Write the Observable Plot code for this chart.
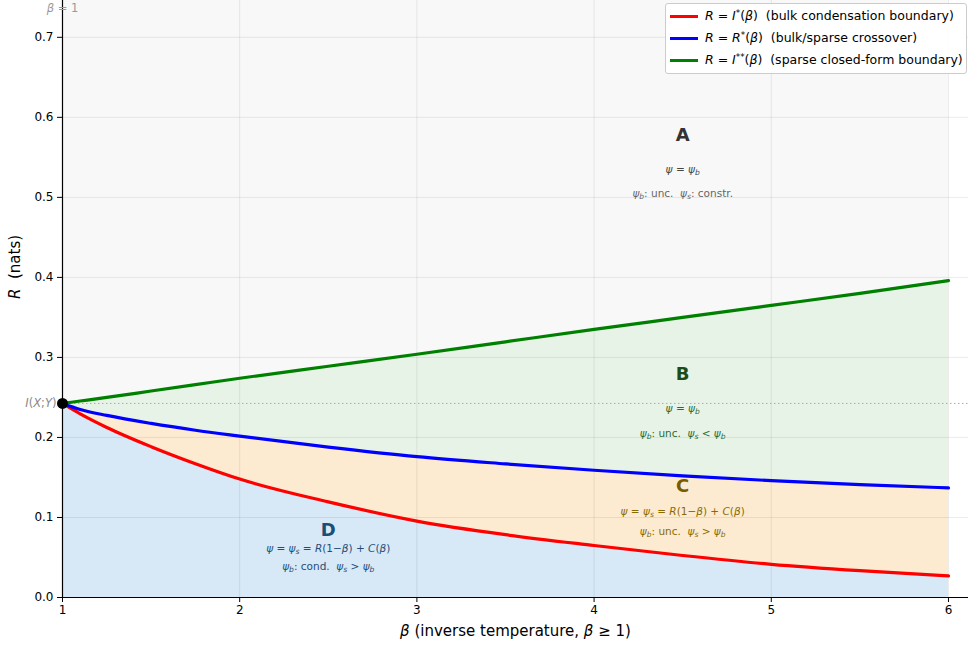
<!DOCTYPE html>
<html><head><meta charset="utf-8">
<script src="https://cdn.jsdelivr.net/npm/d3@7"></script>
<script src="https://cdn.jsdelivr.net/npm/@observablehq/plot@0.6"></script>
<style>
body{margin:0;background:#fff;font-family:"DejaVu Sans",sans-serif;}
#wrap{position:relative;width:968px;height:649px;overflow:hidden;}
.legend{position:absolute;left:665px;top:3px;width:302px;height:71px;border:1px solid #cccccc;border-radius:3px;background:rgba(255,255,255,0.92);font-size:12.5px;box-sizing:border-box;color:#000;}
.legend .row{position:absolute;left:4px;height:20px;white-space:pre;line-height:20px;}
.legend .sw{position:absolute;left:0;top:8.5px;width:28px;height:3px;}
.legend .lab{position:absolute;left:35px;top:0;white-space:pre;}
.legend sup{font-size:70%;vertical-align:0.45em;line-height:0;}
</style>
</head><body>
<div id="wrap"></div>
<script>
// ---- data ----
const beta   = [1, 1.1, 1.25, 1.5, 1.75, 2, 2.5, 3, 3.5, 4, 4.5, 5, 5.5, 6];
const Istar  = [0.2425, 0.2295, 0.2125, 0.1885, 0.1672, 0.148, 0.1195, 0.0955, 0.0785, 0.065, 0.0525, 0.0415, 0.0335, 0.027];
const Rstar  = [0.2425, 0.235, 0.2275, 0.2175, 0.209, 0.2017, 0.188, 0.176, 0.167, 0.159, 0.152, 0.146, 0.141, 0.137];
const Istar2 = [0.2425, 0.2455, 0.250, 0.258, 0.266, 0.274, 0.289, 0.304, 0.3195, 0.335, 0.350, 0.365, 0.380, 0.396];
const IXY = 0.2425;
const xTicks = [1, 2, 3, 4, 5, 6];
const yTicks = [0, 0.1, 0.2, 0.3, 0.4, 0.5, 0.6, 0.7];

const regionNames = ["A", "B", "C", "D"];
const regionX = [4.5, 4.5, 4.5, 2.5];
const regionY = [0.578, 0.279, 0.139, 0.084];
const regionEqY = [0.535, 0.236, 0.1075, 0.061];
const regionNoteY = [0.505, 0.205, 0.0825, 0.039];
const regionEq = ["$\u03c8 = \u03c8_b$", "$\u03c8 = \u03c8_b$", "$\u03c8 = \u03c8_s = R(1\u2212\u03b2) + C(\u03b2)$", "$\u03c8 = \u03c8_s = R(1\u2212\u03b2) + C(\u03b2)$"];
const regionNote = ["$\u03c8_b$: unc.  $\u03c8_s$: constr.", "$\u03c8_b$: unc.  $\u03c8_s < \u03c8_b$", "$\u03c8_b$: unc.  $\u03c8_s > \u03c8_b$", "$\u03c8_b$: cond.  $\u03c8_s > \u03c8_b$"];
const regionTitleColor = ["#333333", "#1b4d1b", "#7a5c00", "#1a4f75"];
const regionTextColor = ["#444444", "#2e6b2e", "#8a6a00", "#1f4e79"];
const regionNoteColor = ["#666666", "#2e6b2e", "#8a6a00", "#1f4e79"];

const seriesLabels = ["$R = I^*(\u03b2)$  (bulk condensation boundary)", "$R = R^*(\u03b2)$  (bulk/sparse crossover)", "$R = I^{**}(\u03b2)$  (sparse closed-form boundary)"];
const seriesColors = ["#ff0000", "#0000ff", "#008000"];

const ymax = 0.746, xmax = 6.113;
const rows = beta.map((b, i) => ({b, red: Istar[i], blue: Rstar[i], green: Istar2[i]}));
const curve = "monotone-x";

const regions = regionNames.map((n, i) => ({n, x: regionX[i], y: regionY[i], ye: regionEqY[i], yn: regionNoteY[i], eq: regionEq[i], note: regionNote[i], tc: regionTitleColor[i], ec: regionTextColor[i], nc: regionNoteColor[i]}));

const chart = Plot.plot({
  width: 968, height: 649,
  marginLeft: 62, marginRight: 0, marginTop: 0, marginBottom: 52,
  x: {domain: [1, xmax]},
  y: {domain: [0, ymax]},
  style: {fontFamily: "DejaVu Sans", fontSize: "12px", color: "#000", background: "#fff", overflow: "visible"},
  marks: [
    Plot.areaY(rows, {x: "b", y1: "green", y2: ymax, fill: "#f8f8f8", curve}),
    Plot.areaY(rows, {x: "b", y1: "blue", y2: "green", fill: "#e8f3e8", curve}),
    Plot.areaY(rows, {x: "b", y1: "red", y2: "blue", fill: "#fcebd1", curve}),
    Plot.areaY(rows, {x: "b", y1: 0, y2: "red", fill: "#d7e8f6", curve}),
    Plot.gridX(xTicks, {stroke: "#000", strokeOpacity: 0.08}),
    Plot.gridY(yTicks, {stroke: "#000", strokeOpacity: 0.08}),
    Plot.ruleY([IXY], {stroke: "#aaaaaa", strokeWidth: 1, strokeDasharray: "1.5,2.5"}),
    Plot.line(rows, {x: "b", y: "red", stroke: seriesColors[0], strokeWidth: 3.2, curve}),
    Plot.line(rows, {x: "b", y: "blue", stroke: seriesColors[1], strokeWidth: 3.2, curve}),
    Plot.line(rows, {x: "b", y: "green", stroke: seriesColors[2], strokeWidth: 3.2, curve}),
    Plot.dot([{b: 1, v: IXY}], {x: "b", y: "v", r: 5.5, fill: "#000", stroke: null}),
    Plot.ruleY([0], {stroke: "#000", strokeWidth: 1.2}),
    Plot.ruleX([1], {stroke: "#000", strokeWidth: 1.2}),
    Plot.axisX(xTicks, {tickSize: 5, tickPadding: 3, label: null, tickFormat: d3.format("d"), fontSize: 12}),
    Plot.axisY(yTicks, {tickSize: 5, tickPadding: 4, label: null, tickFormat: d3.format(".1f"), fontSize: 12}),
    Plot.text(regions, {x: "x", y: "y", text: "n", fill: "tc", fontSize: 18, fontWeight: "bold"}),
    Plot.text(regions, {x: "x", y: "ye", text: "eq", fill: "ec", fontSize: 10.5}),
    Plot.text(regions, {x: "x", y: "yn", text: "note", fill: "nc", fontSize: 10.5}),
    Plot.text([IXY], {x: 1, y: d => d, text: () => "$I(X;Y)$", dx: -6, textAnchor: "end", fill: "#888888", fontSize: 11.5}),
    Plot.text(["$\u03b2 = 1$"], {x: 1, frameAnchor: "top", dy: 3, text: d => d, fill: "#999999", fontSize: 11.5, textAnchor: "middle"}),
    Plot.text(["$\u03b2$ (inverse temperature, $\u03b2 \u2265 1$)"], {frameAnchor: "bottom", dy: 38, text: d => d, fontSize: 15, fill: "#000"}),
    Plot.text(["$R$  (nats)"], {frameAnchor: "left", dx: -47, rotate: -90, text: d => d, fontSize: 15, fill: "#000"})
  ]
});

function esc(s) { return s.replace(/&/g, "&amp;").replace(/</g, "&lt;").replace(/>/g, "&gt;"); }
function mathSVG(s) {
  const parts = s.split("$");
  let out = "";
  parts.forEach((p, i) => {
    if (i % 2 === 0) { out += esc(p); return; }
    let j = 0;
    while (j < p.length) {
      const c = p[j];
      if (c === "_" || c === "^") {
        j++;
        let arg;
        if (p[j] === "{") { const k = p.indexOf("}", j); arg = p.slice(j + 1, k); j = k + 1; }
        else { arg = p[j]; j++; }
        const shift = c === "_" ? "-22%" : "45%";
        out += `<tspan baseline-shift="${shift}" style="font-size:72%">${mathSVG("$" + arg + "$")}</tspan>`;
        continue;
      }
      if (/[A-Za-z\u03b1-\u03c9]/.test(c)) out += `<tspan font-style="italic">${c}</tspan>`;
      else out += esc(c);
      j++;
    }
  });
  return out;
}
function mathHTML(s) {
  const parts = s.split("$");
  let out = "";
  parts.forEach((p, i) => {
    if (i % 2 === 0) { out += esc(p); return; }
    let j = 0;
    while (j < p.length) {
      const c = p[j];
      if (c === "_" || c === "^") {
        j++;
        let arg;
        if (p[j] === "{") { const k = p.indexOf("}", j); arg = p.slice(j + 1, k); j = k + 1; }
        else { arg = p[j]; j++; }
        out += c === "^" ? `<sup>${esc(arg)}</sup>` : `<sub>${esc(arg)}</sub>`;
        continue;
      }
      if (/[A-Za-z\u03b1-\u03c9]/.test(c)) out += `<i>${c}</i>`;
      else out += esc(c);
      j++;
    }
  });
  return out;
}
chart.querySelectorAll("text").forEach(t => {
  if (t.textContent.includes("$")) {
    t.innerHTML = mathSVG(t.textContent);
    t.style.whiteSpace = "pre";
  }
});

const wrap = document.getElementById("wrap");
wrap.appendChild(chart);
const lg = document.createElement("div");
lg.className = "legend";
seriesLabels.forEach((l, i) => {
  const r = document.createElement("div");
  r.className = "row";
  r.style.top = (2 + i * 22) + "px";
  r.innerHTML = `<div class="sw" style="background:${seriesColors[i]}"></div><span class="lab">${mathHTML(l)}</span>`;
  lg.appendChild(r);
});
wrap.appendChild(lg);
</script>
</body></html>
